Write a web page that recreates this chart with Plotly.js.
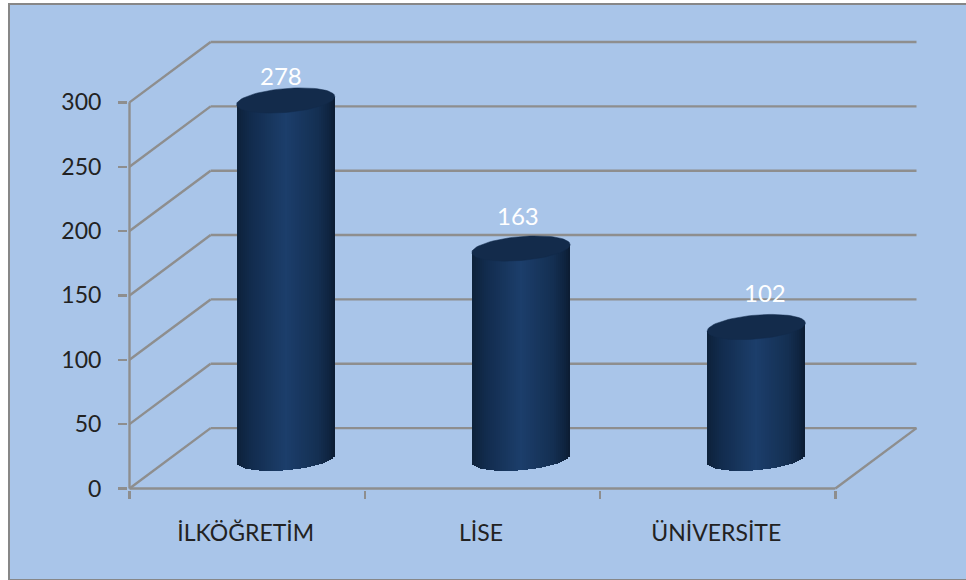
<!DOCTYPE html>
<html><head><meta charset="utf-8">
<script src="https://cdn.plot.ly/plotly-3.0.1.min.js"></script>
<style>
html,body{margin:0;padding:0;background:#fff;overflow:hidden;width:966px;height:580px}
#frame{position:absolute;left:8px;top:3px;width:970px;height:574px;background:#A9C5E9;border:2px solid #878787;box-sizing:content-box}
#chart{position:absolute;left:0;top:0;width:966px;height:580px}
</style></head><body>
<div id="frame"></div><div id="chart"></div>
<script>
const categories = ['İLKÖĞRETİM','LİSE','ÜNİVERSİTE'];
const values = [278,163,102];
const yTicks = [0,50,100,150,200,250,300];
const xEdges = [0,1,2,3];

const pxX = 235, pxY = 1.29;
const depthX = 81/pxX, depthY = 60.5/pxY;
const halfW = 49/pxX, rimB = 12/pxY, tilt = 4/pxY, barNudge = -2/pxX, labelNudge = -1.5/pxX;
const pad = {x:0.0064,y:1.16};
const plotLeft=130, plotRight=916, plotTop=41, plotBottom=489;
const xRange=[-pad.x,(plotRight-plotLeft)/pxX+pad.x];
const yRange=[-pad.y,(plotBottom-plotTop)/pxY+pad.y];
const gridColor='#8e8e8e';
const N=49;

function lerp(a,b,t){return Math.round(a+(b-a)*t);}
const stops=[[-1,[13,33,58]],[-0.7,[18,44,78]],[0,[28,62,107]],[0.65,[20,47,82]],[0.88,[15,36,64]],[1,[11,28,50]]];
function shade(u){
  for(let i=0;i<stops.length-1;i++){
    const [a,ca]=stops[i],[b,cb]=stops[i+1];
    if(u<=b){const t=(u-a)/(b-a);return `rgb(${lerp(ca[0],cb[0],t)},${lerp(ca[1],cb[1],t)},${lerp(ca[2],cb[2],t)})`;}
  }
}

const centerX=i=>i+0.5+depthX/2+barNudge;
const traces=[];
categories.forEach((c,i)=>{
  const cx=centerX(i), cy0=depthY/2, cy1=values[i]+depthY/2;
  const xs=[],bases=[],hs=[],cols=[];
  for(let k=0;k<N;k++){
    const u=-1+(2*k+1)/N;
    const r=Math.sqrt(1-u*u);
    const b=cy0+tilt*u-rimB*r, t=cy1+tilt*u;
    xs.push(cx+halfW*u);bases.push(b);hs.push(t-b);cols.push(shade(u));
  }
  traces.push({type:'bar',x:xs,y:hs,base:bases,width:2*halfW/N,
    marker:{color:cols,line:{width:0}},hoverinfo:'skip',showlegend:false});
});
categories.forEach((c,i)=>{
  const cx=centerX(i), cy1=values[i]+depthY/2;
  const px=[],py=[];
  for(let a=0;a<=72;a++){
    const t=a/72*2*Math.PI;
    px.push(cx+halfW*Math.cos(t));
    py.push(cy1+tilt*Math.cos(t)+rimB*Math.sin(t));
  }
  traces.push({type:'scatter',mode:'lines',x:px,y:py,fill:'toself',fillcolor:'#132b4b',
    line:{color:'#132b4b',width:0.5},hoverinfo:'skip',showlegend:false});
});

const line=(x0,y0,x1,y1)=>({type:'line',layer:'below',xref:'x',yref:'y',x0,y0,x1,y1,line:{color:gridColor,width:2.4}});
const shapes=[];
const xMaxBack=(plotRight-plotLeft)/pxX;
yTicks.forEach(v=>{
  shapes.push(line(0,v,depthX,v+depthY));
  shapes.push(line(depthX,v+depthY,xMaxBack,v+depthY));
});
shapes.push(line(0,0,0,yTicks[yTicks.length-1]));
shapes.push(line(0,0,xEdges[xEdges.length-1],0));
shapes.push(line(xEdges[xEdges.length-1],0,xEdges[xEdges.length-1]+depthX,depthY));

const labelShift=[[-5,-25],[-3,-33],[9,-35]];
const annotations=values.map((v,i)=>({x:centerX(i),y:v+depthY/2,xref:'x',yref:'y',text:String(v),showarrow:false,
  xshift:labelShift[i][0],yshift:-labelShift[i][1],font:{family:'Lato',size:24,color:'#ffffff'}}));

const layout={
  width:966,height:580,autosize:false,
  paper_bgcolor:'rgba(0,0,0,0)',plot_bgcolor:'rgba(0,0,0,0)',
  margin:{l:plotLeft-pad.x*pxX,r:966-plotRight-pad.x*pxX,t:plotTop-pad.y*pxY,b:580-plotBottom-pad.y*pxY,pad:0},
  barmode:'overlay',bargap:0,showlegend:false,shapes,annotations,
  xaxis:{range:xRange,showgrid:false,zeroline:false,showline:false,tickmode:'array',
    tickvals:categories.map((c,i)=>i+0.5+labelNudge),ticktext:categories,ticks:'',ticklabelstandoff:27,
    tickfont:{family:'Lato',size:23,color:'#222222'},
    minor:{tickmode:'array',tickvals:xEdges,ticks:'outside',ticklen:8,tickwidth:2.4,tickcolor:gridColor,showgrid:false}},
  yaxis:{range:yRange,showgrid:false,zeroline:false,showline:false,tickmode:'array',
    tickvals:yTicks,ticktext:yTicks.map(String),ticks:'outside',ticklen:9,tickwidth:2.4,tickcolor:gridColor,
    ticklabelstandoff:12,tickfont:{family:'Lato',size:23,color:'#222222'}}
};
Plotly.newPlot('chart',traces,layout,{displayModeBar:false,staticPlot:true});
</script></body></html>
